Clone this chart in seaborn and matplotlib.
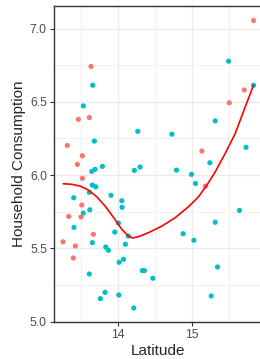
import numpy as np
import pandas as pd
import matplotlib
matplotlib.use("Agg")
import matplotlib.pyplot as plt
import seaborn as sns

# Values
lat_a = [13.639, 13.468, 13.616, 13.319, 13.522, 13.454, 13.522, 13.514, 13.338, 13.504,
         13.670, 13.261, 13.427, 13.400, 15.832, 15.707, 15.504, 15.135, 15.184]
cons_a = [6.741, 6.380, 6.393, 6.202, 6.132, 6.073, 5.978, 5.796, 5.718, 5.714,
          5.596, 5.545, 5.516, 5.434, 7.055, 6.581, 6.493, 6.164, 5.925]

lat_b = [13.662, 13.535, 14.270, 13.684, 13.792, 13.649, 13.693, 14.224, 14.301, 15.495,
         15.832, 15.315, 14.730, 15.730, 15.243, 14.792, 13.657, 13.703, 13.616, 13.909,
         13.405, 14.054, 14.058, 13.535, 13.622, 14.008, 13.409, 13.959, 14.143, 13.657,
         14.103, 13.838, 13.873, 14.076, 14.018, 14.332, 14.359, 13.616, 13.828, 13.765,
         14.014, 14.216, 14.995, 15.049, 15.643, 15.315, 14.882, 15.027, 14.473, 15.346,
         15.261]
cons_b = [6.613, 6.472, 6.298, 6.232, 6.059, 6.025, 6.039, 6.032, 6.055, 6.777,
          6.613, 6.370, 6.279, 6.189, 6.084, 6.034, 5.932, 5.920, 5.882, 5.862,
          5.845, 5.825, 5.780, 5.741, 5.763, 5.673, 5.643, 5.611, 5.584, 5.539,
          5.528, 5.509, 5.487, 5.425, 5.405, 5.348, 5.348, 5.325, 5.200, 5.157,
          5.182, 5.093, 6.005, 5.943, 5.759, 5.678, 5.600, 5.555, 5.296, 5.373,
          5.175]

# smoothed trend (loess)
smooth_lat = [13.265, 13.378, 13.491, 13.603, 13.716, 13.828, 13.941, 14.054, 14.143, 14.197,
              14.278, 14.414, 14.595, 14.774, 14.954, 15.089, 15.203, 15.315, 15.450, 15.585,
              15.720, 15.832]
smooth_cons = [5.941, 5.937, 5.925, 5.898, 5.852, 5.789, 5.712, 5.630, 5.584, 5.571,
               5.579, 5.607, 5.652, 5.709, 5.784, 5.852, 5.932, 6.022, 6.148, 6.284,
               6.466, 6.613]

groups = ["A"] * len(lat_a) + ["B"] * len(lat_b)
palette = {"A": "#F8766D", "B": "#00BFC4"}

df = pd.DataFrame({"Latitude": lat_a + lat_b,
                   "Household Consumption": cons_a + cons_b,
                   "group": groups})
smooth = pd.DataFrame({"Latitude": smooth_lat, "fit": smooth_cons})

sns.set_style("white")
plt.rcParams["font.family"] = ["Liberation Sans", "DejaVu Sans"]

fig = plt.figure(figsize=(2.6, 3.59), dpi=100)
ax = fig.add_axes([0.2058, 0.102, 0.806, 0.881])

sns.scatterplot(data=df, x="Latitude", y="Household Consumption", hue="group",
                palette=palette, s=14, linewidth=0, legend=False, ax=ax, zorder=3)
sns.lineplot(data=smooth, x="Latitude", y="fit", color="red", linewidth=1.2,
             sort=False, ax=ax, zorder=4)

# ggplot-style 5% expansion of the data range
x = df["Latitude"].to_numpy()
y = df["Household Consumption"].to_numpy()
xr = x.max() - x.min()
yr = y.max() - y.min()
ax.set_xlim(x.min() - 0.05 * xr, x.max() + 0.05 * xr)
ax.set_ylim(y.min() - 0.05 * yr, y.max() + 0.05 * yr)

ax.set_xticks([14, 15])
ax.set_xticks([13.5, 14.5, 15.5], minor=True)
ax.set_yticks([5.0, 5.5, 6.0, 6.5, 7.0])
ax.set_yticklabels(["5.0", "5.5", "6.0", "6.5", "7.0"])
ax.set_yticks([5.25, 5.75, 6.25, 6.75], minor=True)

ax.grid(which="major", color="#EBEBEB", linewidth=1.0, zorder=0)
ax.grid(which="minor", color="#EBEBEB", linewidth=0.5, zorder=0)
ax.set_axisbelow(True)

for s in ax.spines.values():
    s.set_color("#333333")
    s.set_linewidth(1.0)

ax.tick_params(which="major", length=2.75, width=0.8, color="#333333",
               labelsize=8.8, labelcolor="#4D4D4D", pad=2, direction="out",
               bottom=True, left=True)
ax.tick_params(which="minor", length=0)

ax.set_xlabel("Latitude", fontsize=11, labelpad=2)
ax.set_ylabel("Household Consumption", fontsize=11, labelpad=3)

fig.savefig("out.png", dpi=100)
